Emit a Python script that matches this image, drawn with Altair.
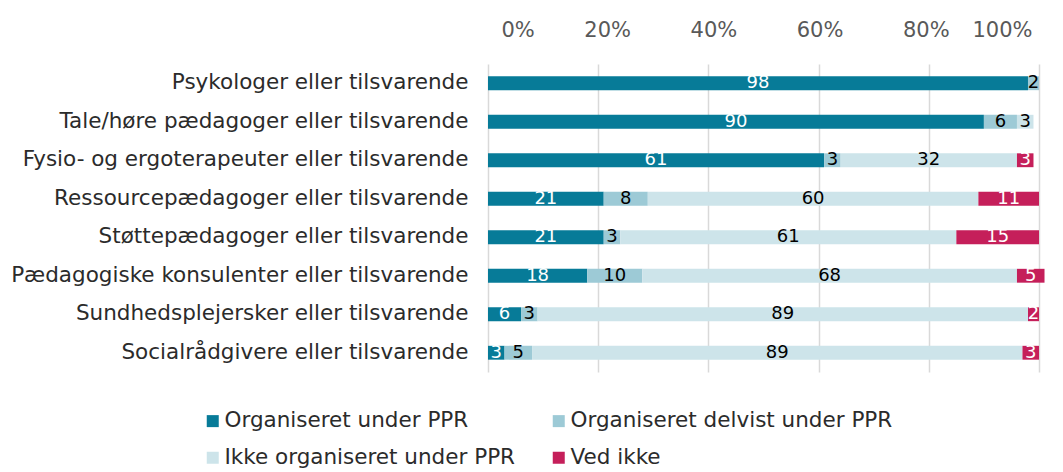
import altair as alt
import pandas as pd

categories = [
    "Psykologer eller tilsvarende",
    "Tale/høre pædagoger eller tilsvarende",
    "Fysio- og ergoterapeuter eller tilsvarende",
    "Ressourcepædagoger eller tilsvarende",
    "Støttepædagoger eller tilsvarende",
    "Pædagogiske konsulenter eller tilsvarende",
    "Sundhedsplejersker eller tilsvarende",
    "Socialrådgivere eller tilsvarende",
]
series = [
    "Organiseret under PPR",
    "Organiseret delvist under PPR",
    "Ikke organiseret under PPR",
    "Ved ikke",
]
organiseret = [98, 90, 61, 21, 21, 18, 6, 3]
delvist = [2, 6, 3, 8, 3, 10, 3, 5]
ikke = [0, 3, 32, 60, 61, 68, 89, 89]
ved_ikke = [0, 0, 3, 11, 15, 5, 2, 3]
colors = ["#077b98", "#9dcad6", "#cde4ea", "#c51f5a"]
text_colors = ["#ffffff", "#000000", "#000000", "#ffffff"]

rows = []
for i, cat in enumerate(categories):
    for j, vals in enumerate([organiseret, delvist, ikke, ved_ikke]):
        v = vals[i]
        if v > 0:
            rows.append({"cat": cat, "serie": series[j], "order": j,
                         "value": v, "tcol": text_colors[j]})
df = pd.DataFrame(rows)

base = alt.Chart(df).transform_calculate(
    frac="datum.value / 100"
).transform_stack(
    stack="frac", groupby=["cat"], as_=["x0", "x1"],
    sort=[alt.SortField("order", order="ascending")]
).transform_calculate(
    mid="(datum.x0 + datum.x1) / 2"
)

y_enc = alt.Y("cat:N", sort=categories, title=None,
              scale=alt.Scale(paddingInner=0.64, paddingOuter=0.32),
              axis=alt.Axis(domain=False, ticks=False, labelFont="DejaVu Sans",
                            labelFontSize=21.5, labelColor="#2b2b2b",
                            labelPadding=20, labelLimit=700))

bars = base.mark_bar().encode(
    x=alt.X("x0:Q", title=None,
            scale=alt.Scale(domain=[0, 1], nice=False),
            axis=alt.Axis(orient="top", format="%", values=[0, 0.2, 0.4, 0.6, 0.8, 1.0],
                          domain=False, ticks=False, grid=True,
                          gridColor="#d9d9d9", gridWidth=1.5,
                          labelFont="DejaVu Sans", labelFontSize=21,
                          labelColor="#595959", labelPadding=24,
                          labelOffset=alt.ExprRef("13 - 20*datum.value"))),
    x2="x1:Q",
    y=y_enc,
    color=alt.Color("serie:N", sort=series,
                    scale=alt.Scale(domain=series, range=colors),
                    legend=alt.Legend(title=None, orient="none", legendX=-286, legendY=346,
                                      columns=2, direction="horizontal",
                                      symbolType="square", symbolSize=144,
                                      symbolStrokeWidth=0, symbolOffset=0,
                                      labelOffset=1,
                                      labelFont="DejaVu Sans", labelFontSize=21.5,
                                      labelColor="#2b2b2b", columnPadding=32,
                                      rowPadding=14, labelLimit=600)),
    order=alt.Order("order:Q"),
)

labels = base.mark_text(font="DejaVu Sans", fontSize=18, baseline="middle").encode(
    x=alt.X("mid:Q"),
    y=alt.Y("cat:N", sort=categories),
    text=alt.Text("value:Q"),
    color=alt.Color("tcol:N", scale=None),
)

chart = alt.layer(bars, labels).properties(
    width=551, height=308,
    padding={"left": 2, "top": 11, "right": 5, "bottom": 5},
).configure_view(stroke=None)

chart.save("out.html", embed_options={"renderer": "svg", "actions": False})
